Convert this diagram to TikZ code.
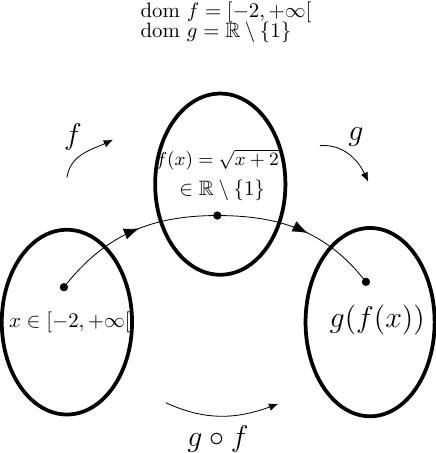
\documentclass[tikz,border=0pt]{standalone}
\usepackage{mathtools}
\usepackage{amssymb}
\usepackage{tikz}
\usetikzlibrary{arrows.meta,decorations.markings}

\begin{document}
\begin{tikzpicture}[
  set/.style={line width=1.8pt},
  pt/.style={circle,fill,inner sep=0pt,minimum size=4pt},
  lab/.style={font=\Large},
  small arrow/.style={-{Latex[length=4.5pt,width=3.6pt]}},
  midarrow/.style={postaction={decorate},decoration={markings,
      mark=at position #1 with {\arrow{Latex[length=7.5pt,width=5.5pt]}}}}]
\useasboundingbox (0,0) rectangle (7.35,7.65);
% domains
\node[anchor=base west] (domf) at (2.25,7.36) {$\mathrm{dom}\ f = [-2,+\infty[$};
\node[anchor=base west] (domg) at (2.25,7.02) {$\mathrm{dom}\ g = \mathbb{R}\setminus\{1\}$};
% the three sets
\draw[set] (1.13,2.21) ellipse (1.10 and 1.56);
\draw[set] (3.72,4.54) ellipse (1.10 and 1.53);
\draw[set] (6.25,2.21) ellipse (1.09 and 1.59);
\node (xdom) at (1.18,2.21) {$x\in[-2,+\infty[$};
\node[font=\small] (fx) at (3.67,4.95) {$f(x)=\sqrt{x+2}$};
\node (fxin) at (3.75,4.44) {$\in\mathbb{R}\setminus\{1\}$};
\node[lab] (gfx) at (6.37,2.25) {$g(f(x))$};
% points and the path between them
\node[pt] (x) at (1.08,2.80) {};
\node[pt] (y) at (3.67,4.01) {};
\node[pt] (z) at (6.18,2.89) {};
\draw[midarrow=0.55] (x.center) to[out=52,in=180] (y.center);
\draw[midarrow=0.55] (y.center) to[out=0,in=128] (z.center);
% maps
\coordinate (fa) at (1.13,4.65);
\coordinate (fb) at (1.91,5.29);
\draw[small arrow] (fa) to[out=82,in=205] (fb);
\node[lab] (flab) at (1.23,5.34) {$f$};
\coordinate (ga) at (5.40,5.19);
\coordinate (gb) at (6.22,4.58);
\draw[small arrow] (ga) to[out=5,in=115] (gb);
\node[lab] (glab) at (6.01,5.34) {$g$};
\coordinate (ca) at (2.80,0.85);
\coordinate (cb) at (4.70,0.83);
\draw[small arrow] (ca) to[out=-25,in=200] (cb);
\node[lab] (clab) at (3.68,0.24) {$g\circ f$};
\end{tikzpicture}
\end{document}
